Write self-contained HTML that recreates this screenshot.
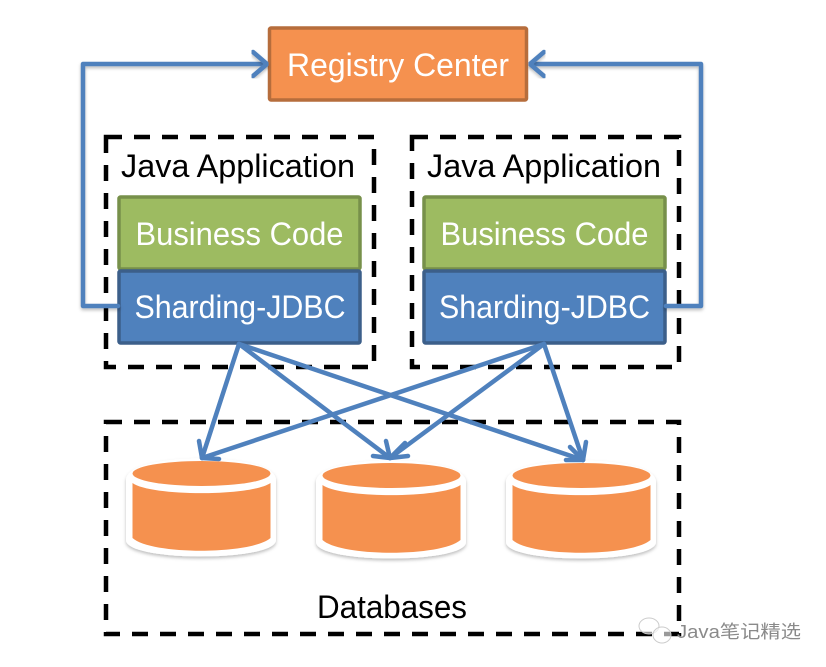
<!DOCTYPE html>
<html><head><meta charset="utf-8">
<style>
html,body{margin:0;padding:0;background:#fff;width:826px;height:667px;overflow:hidden}
svg{display:block}
text{font-family:"Liberation Sans","Noto Sans CJK SC",sans-serif}
</style></head><body>
<svg width="826" height="667" viewBox="0 0 826 667" xmlns="http://www.w3.org/2000/svg">
<defs>
<filter id="s" x="-10%" y="-10%" width="120%" height="120%"><feDropShadow dx="0" dy="2" stdDeviation="1.500" flood-color="#000" flood-opacity="0.25"/></filter>
<g id="cyl">
<path d="M-1 20 C-1 -9 149 -9 149 20 V80 C149 102 -1 102 -1 80 Z" fill="#fff" filter="url(#s)"/>
<path d="M5.500 23 C24 36.500 124 36.500 143.500 23 V78 C124 95 24 95 5.500 78 Z" fill="#f5914f"/>
<ellipse cx="74.500" cy="13.500" rx="69" ry="12.500" fill="#f5914f"/>
</g>
</defs>
<g fill="none" stroke="#000" stroke-width="4.500" stroke-dasharray="16 12">
<rect x="106" y="137" width="268" height="230"/>
<rect x="412" y="137" width="267" height="230"/>
<rect x="106" y="422" width="573" height="212"/>
</g>
<use href="#cyl" x="127" y="460"/>
<use href="#cyl" x="317" y="462"/>
<use href="#cyl" x="507" y="462"/>
<rect x="269.500" y="28" width="257" height="72" rx="1.500" fill="#f5914f" stroke="#b66d3c" stroke-width="3.500"/>
<rect x="119" y="197" width="241" height="72" rx="1.500" fill="#9dbb61" stroke="#77904a" stroke-width="3.500"/>
<rect x="424" y="197" width="241" height="72" rx="1.500" fill="#9dbb61" stroke="#77904a" stroke-width="3.500"/>
<rect x="119" y="271" width="241" height="72" rx="1.500" fill="#4f81bd" stroke="#3c5f8a" stroke-width="3.500"/>
<rect x="424" y="271" width="241" height="72" rx="1.500" fill="#4f81bd" stroke="#3c5f8a" stroke-width="3.500"/>
<g fill="none" stroke="#4f81bd" stroke-width="4.500" stroke-linejoin="round" stroke-linecap="round">
<path d="M118 306 H83 V64 H266" filter="url(#s)"/>
<path d="M666 306 H701 V64 H531" filter="url(#s)"/>
<path d="M253 52 L267 64 L253 76" filter="url(#s)"/>
<path d="M544 52 L530 64 L544 76" filter="url(#s)"/>
<path d="M239 344 L202 458"/>
<path d="M239 344 L390 458"/>
<path d="M239 344 L583 460"/>
<path d="M544 344 L202 458"/>
<path d="M544 344 L390 458"/>
<path d="M544 344 L583 460"/>
<path d="M199 441 L202 458 L219 459"/>
<path d="M373 456 L390 458 L386 441"/>
<path d="M405 443 L390 458 L408 456"/>
<path d="M566 460 L583 460 L570 447"/>
<path d="M586 442 L583 460"/>
</g>
<g font-size="32" text-anchor="middle">
<text x="398" y="76" fill="#fff" textLength="222" lengthAdjust="spacingAndGlyphs">Registry Center</text>
<text x="238" y="177" fill="#000" textLength="234" lengthAdjust="spacingAndGlyphs">Java Application</text>
<text x="544" y="177" fill="#000" textLength="234" lengthAdjust="spacingAndGlyphs">Java Application</text>
<text x="239.500" y="245" fill="#fff" textLength="208" lengthAdjust="spacingAndGlyphs">Business Code</text>
<text x="544.500" y="245" fill="#fff" textLength="208" lengthAdjust="spacingAndGlyphs">Business Code</text>
<text x="240" y="318" fill="#fff" textLength="211" lengthAdjust="spacingAndGlyphs">Sharding-JDBC</text>
<text x="544.500" y="318" fill="#fff" textLength="211" lengthAdjust="spacingAndGlyphs">Sharding-JDBC</text>
<text x="392" y="618" fill="#000" textLength="150" lengthAdjust="spacingAndGlyphs">Databases</text>
</g>
<g fill="#fff" fill-opacity="0.6" stroke="#ccc" stroke-width="1">
<ellipse cx="649" cy="626" rx="10" ry="8"/>
<ellipse cx="662" cy="635" rx="9" ry="8"/>
</g>
<text x="677" y="638" font-size="18" fill="#8a8a8a" textLength="124" lengthAdjust="spacingAndGlyphs">Java笔记精选</text>
</svg>
</body></html>
